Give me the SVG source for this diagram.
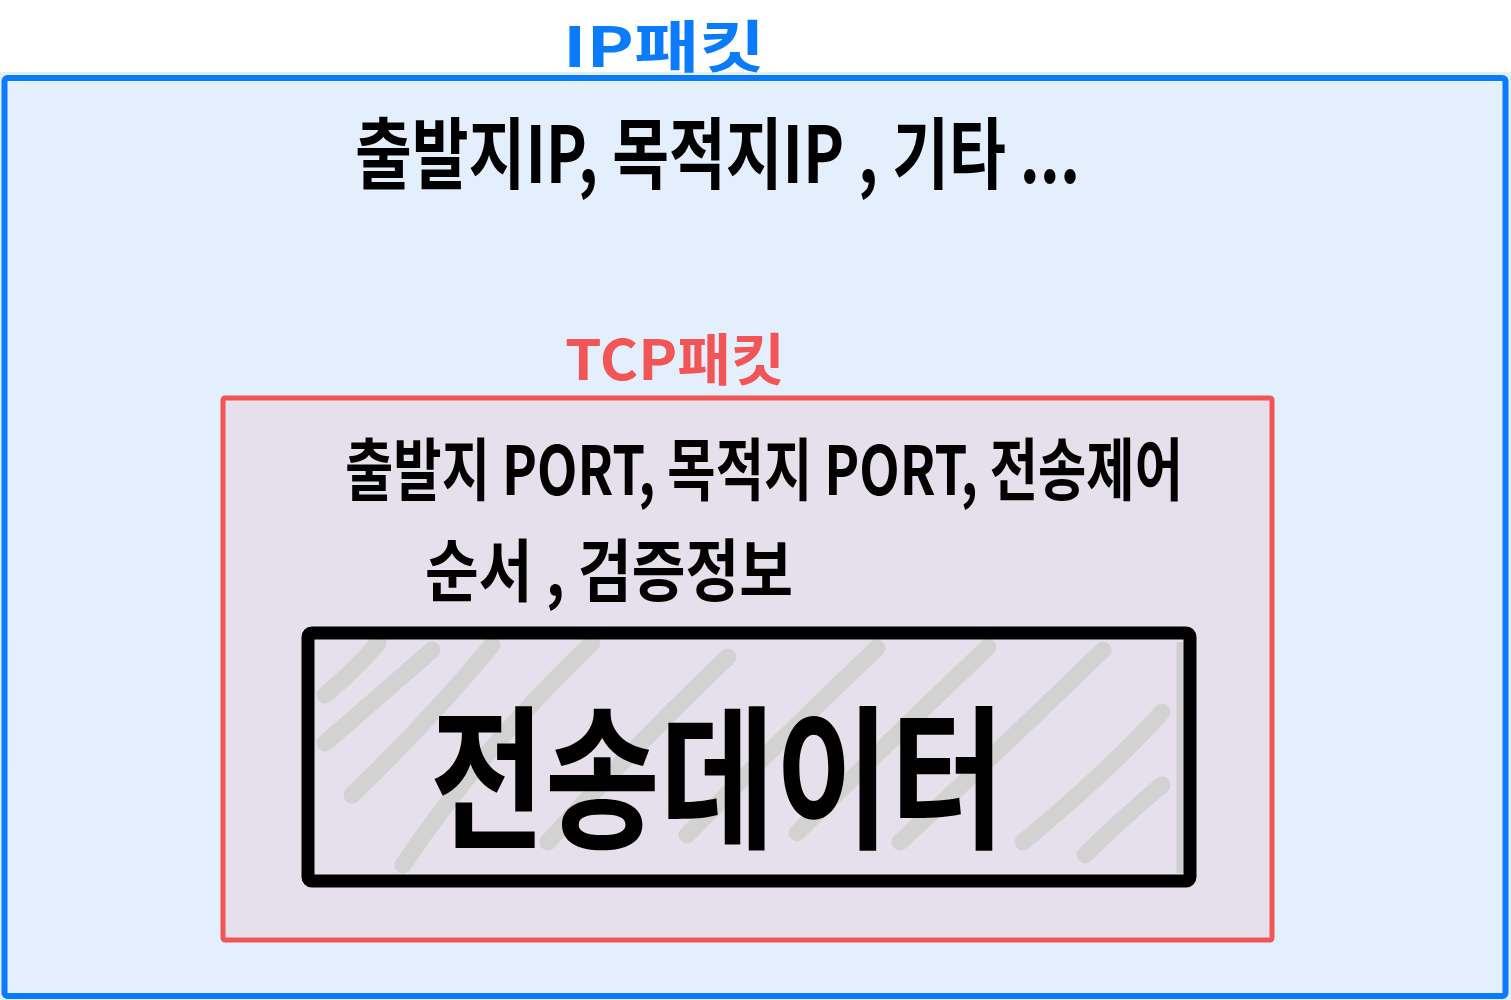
<svg xmlns="http://www.w3.org/2000/svg" width="1511" height="1000" viewBox="0 0 1511 1000">
<style>
.hand{font-family:"Noto Sans CJK KR","Noto Sans",sans-serif;font-weight:700;}
.hatch{fill:none;stroke:#d2d2d2;stroke-width:17;stroke-linecap:round;stroke-linejoin:round;}
</style>
<rect x="0" y="0" width="1511" height="1000" fill="#ffffff"/>
<g id="ip-packet">
<rect x="0" y="72" width="1511" height="928" fill="#e3effd"/>
<rect x="4.5" y="78" width="1501" height="918" rx="3" fill="none" stroke="#0a7cfb" stroke-width="6"/>
<text class="hand" x="563" y="67" font-size="56" fill="#0a7cfb" textLength="202" lengthAdjust="spacingAndGlyphs">IP패킷</text>
<text class="hand" x="355" y="183" font-size="78" fill="#000" textLength="725" lengthAdjust="spacingAndGlyphs">출발지IP, 목적지IP , 기타 ...</text>
</g>
<g id="tcp-packet">
<rect x="223" y="398" width="1049" height="542" rx="2" fill="#e6e0ed" stroke="#f25555" stroke-width="5"/>
<text class="hand" x="565" y="380" font-size="56" fill="#f25555" textLength="220" lengthAdjust="spacingAndGlyphs">TCP패킷</text>
<text class="hand" x="345" y="495" font-size="68" fill="#000" textLength="838" lengthAdjust="spacingAndGlyphs">출발지 PORT, 목적지 PORT, 전송제어</text>
<text class="hand" x="425" y="596" font-size="68" fill="#000" textLength="368" lengthAdjust="spacingAndGlyphs">순서 , 검증정보</text>
</g>
<g id="data">
<line x1="1180" y1="642" x2="1180" y2="873" stroke="#cfcfcf" stroke-width="7"/>
<g id="hatching">
<path class="hatch" d="M378 643 Q355 670 325 695"/>
<path class="hatch" d="M432 650 Q375 700 325 743"/>
<path class="hatch" d="M492 645 Q430 720 352 795"/>
<path class="hatch" d="M592 643 Q480 750 403 865"/>
<path class="hatch" d="M728 657 Q640 740 548 842"/>
<path class="hatch" d="M877 648 Q780 740 687 835"/>
<path class="hatch" d="M988 647 Q890 740 797 833"/>
<path class="hatch" d="M1103 650 Q1000 750 900 842"/>
<path class="hatch" d="M1162 712 Q1110 770 1023 842"/>
<path class="hatch" d="M1162 785 Q1120 820 1085 855"/>
</g>
<rect x="308" y="633" width="882" height="248" rx="4" fill="none" stroke="#000" stroke-width="13"/>
<text class="hand" x="430" y="836" font-size="155" fill="#000" textLength="575" lengthAdjust="spacingAndGlyphs">전송데이터</text>
</g>
</svg>
